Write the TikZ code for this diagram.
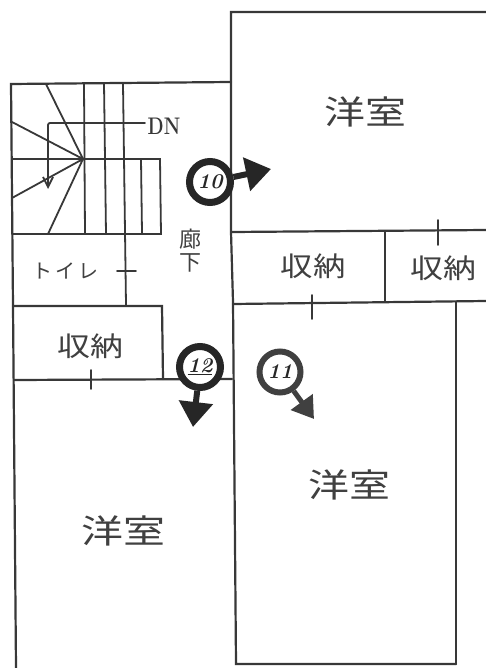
\documentclass[tikz,border=0pt]{standalone}
\usepackage{fontspec}
\usepackage{graphicx}
\newfontfamily\cjk{Noto Sans CJK JP}
\usetikzlibrary{arrows.meta}
\definecolor{ink}{HTML}{383838}
\definecolor{inkb}{HTML}{262626}
\definecolor{inkc}{HTML}{404040}
\newcommand{\widetext}[2]{\scalebox{#1}[1]{#2}}
\tikzset{
  wall/.style={draw=ink,line width=2.2pt,line cap=round,line join=miter},
  thin wall/.style={draw=ink,line width=1.8pt,line cap=round},
  room/.style={font=\cjk\fontsize{33}{33}\selectfont,text=inkc,inner sep=0pt},
  store/.style={font=\cjk\fontsize{27}{27}\selectfont,text=inkc,inner sep=0pt},
  marker/.style={circle,draw=inkb,line width=7pt,fill=white,minimum size=41pt,inner sep=0pt,font=\bfseries\itshape\fontsize{21}{21}\selectfont,text=inkb},
  markerb/.style={circle,draw=inkc,line width=6pt,fill=white,minimum size=41pt,inner sep=0pt,font=\bfseries\itshape\fontsize{21}{21}\selectfont,text=inkb},
  view/.style={draw=inkb,line width=6pt,-{Triangle[length=25pt,width=33pt]}},
}
\begin{document}
\begin{tikzpicture}[x=1pt,y=-1pt]
\useasboundingbox (0,0) rectangle (486,668);
\fill[white] (0,0) rectangle (486,668);
% outer walls
\draw[wall] (486,12) -- (231,12) -- (231,232) -- (233,302) -- (236,664) -- (456,664);
\draw[wall] (231,82) -- (11,84) -- (13,306) -- (16,668);
\draw[wall] (232,232) -- (486,230);
\draw[wall] (233,304) -- (486,301);
\draw[wall] (385,232) -- (385,301);
\draw[wall] (456,302) -- (456,664);
\draw[thin wall] (438,220) -- (438,245);
\draw[thin wall] (312,295) -- (312,319);
% stairs
\draw[thin wall] (12,159) -- (160,159) -- (161,234) -- (12,234);
\draw[thin wall] (84,84) -- (85,234);
\draw[thin wall] (104,83) -- (106,234);
\draw[thin wall] (123,84) -- (126,305);
\draw[thin wall] (141,159) -- (142,233);
\draw[thin wall] (46,84) -- (83,159) -- (12,122);
\draw[thin wall] (12,198) -- (83,159) -- (48,234);
\coordinate (dnstart) at (145,123);
\coordinate (dnend) at (48,189);
\draw[thin wall,rounded corners=2pt,-{Straight Barb[length=10pt,width=10pt]}] (dnstart) -- (48,123) -- (dnend);
\node[font=\bfseries\fontsize{24}{24}\selectfont,text=ink,inner sep=0pt] (dn) at (164,126) {\scalebox{0.78}[1]{DN}};
% toilet and storage
\draw[wall] (13,306) -- (162,306) -- (163,379);
\draw[wall] (14,380) -- (232,379);
\draw[thin wall] (91,370) -- (91,389);
\draw[thin wall] (117,271) -- (136,271);
% labels
\node[room] (r1) at (365,112) {\widetext{1.24}{洋室}};
\node[room] (r2) at (349,485) {\widetext{1.24}{洋室}};
\node[room] (r3) at (123,531) {\widetext{1.27}{洋室}};
\node[store] (s1) at (313,266) {\widetext{1.2}{収納}};
\node[store] (s2) at (443,268) {\widetext{1.22}{収納}};
\node[store] (s3) at (90,346) {\widetext{1.22}{収納}};
\node[font=\cjk\fontsize{20}{20}\selectfont,text=inkc,inner sep=0pt] (toilet) at (65,271) {ト\hspace{3pt}イ\hspace{3pt}レ};
\node[font=\cjk\fontsize{22}{23}\selectfont,text=inkc,align=center,inner sep=0pt] (hall) at (190,251) {廊\\下};
% view markers
\coordinate (t10) at (271,169);
\coordinate (t12) at (193,427);
\coordinate (t11) at (314,419);
\node[marker] (m10) at (210,182) {10};
\node[marker] (m12) at (200,367) {\underline{12}};
\node[markerb] (m11) at (280,372) {11};
\draw[view] (m10) -- (t10);
\draw[view] (m12) -- (t12);
\draw[draw=inkc,line width=5pt,-{Triangle[length=21pt,width=26pt]}] (m11) -- (t11);
\end{tikzpicture}
\end{document}
